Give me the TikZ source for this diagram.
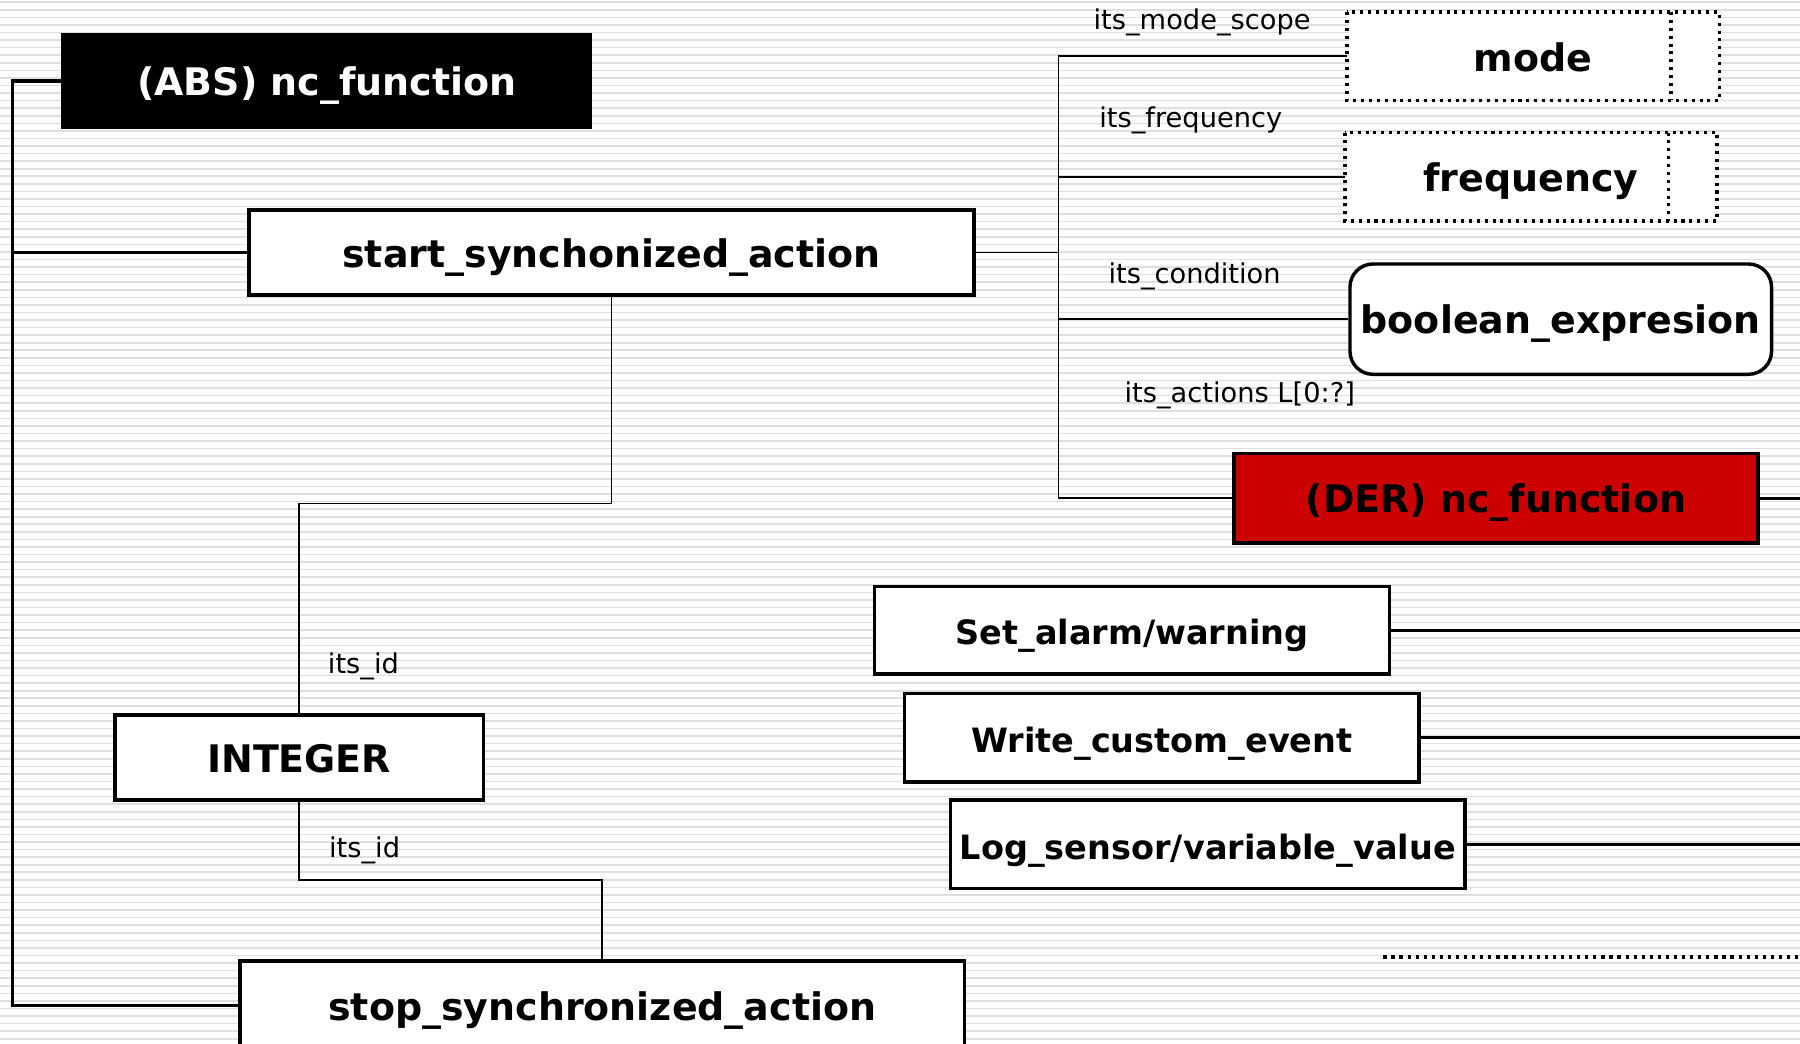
\documentclass[tikz,border=0pt]{standalone}
\usepackage{fontspec}
\setmainfont{DejaVu Sans}
\usetikzlibrary{calc}
\definecolor{derred}{HTML}{CC0000}
\definecolor{stripe}{HTML}{DFDFDF}

\begin{document}
\begin{tikzpicture}[x=0.01cm, y=-0.01cm,
  entity/.style={draw=black, line width=0.85pt, fill=white, inner sep=0pt,
    anchor=north west, font=\fontsize{9.4}{11}\selectfont\bfseries,
    text height=0.73em, text depth=0pt},
  actionbox/.style={entity, font=\fontsize{8.3}{10}\selectfont\bfseries},
  dotborder/.style={dash pattern=on 0.75pt off 1.2pt},
  rolelbl/.style={anchor=base west, inner sep=0pt,
    font=\fontsize{6.75}{8}\selectfont},
  thk/.style={line width=0.85pt},
  thn/.style={line width=0.45pt},
]
% canvas
\useasboundingbox (0,0) rectangle (1568,909);
\clip (0,0) rectangle (1568,909);
\fill[white] (0,0) rectangle (1568,909);
\foreach \yy in {2,8.59,...,909}
  \draw[stripe, line width=0.4pt] (0,\yy) -- (1568,\yy);

% bus coordinates
\coordinate (lbus) at (11,0);
\coordinate (rbus) at (922,0);
\coordinate (redge) at (1580,0);
\coordinate (dotA) at (1205,834);
\coordinate (dotB) at (1580,834);

% entities (positions are the top-left corners of the outlines)
\node[entity, fill=black, text=white, minimum width=4.59cm, minimum height=0.81cm]
  (abs) at (53.5,28.5) {(ABS) nc\_function};
\node[entity, minimum width=6.31cm, minimum height=0.74cm]
  (start) at (215.5,181.5) {start\_synchonized\_action};
\node[entity, minimum width=3.21cm, minimum height=0.74cm]
  (integer) at (98.5,621.5) {INTEGER};
\node[entity, minimum width=6.31cm, minimum height=0.78cm]
  (stop) at (207.5,835.5) {stop\_synchronized\_action};

\node[entity, draw=none, minimum width=3.21cm, minimum height=0.74cm]
  (mode) at (1173.5,10.5) {mode};
\node[entity, draw=none, minimum width=3.21cm, minimum height=0.74cm]
  (freq) at (1171.5,115.5) {frequency};
\node[entity, rounded corners=0.2cm, minimum width=3.67cm, minimum height=0.96cm]
  (cond) at (1174.5,228.5) {boolean\_expresion};
\node[entity, fill=derred, minimum width=4.56cm, minimum height=0.78cm]
  (der) at (1073.5,393.5) {(DER) nc\_function};

\node[actionbox, minimum width=4.48cm, minimum height=0.76cm]
  (alarm) at (760.5,509.5) {Set\_alarm/warning};
\node[actionbox, minimum width=4.48cm, minimum height=0.77cm]
  (write) at (786.5,602.5) {Write\_custom\_event};
\node[actionbox, minimum width=4.48cm, minimum height=0.77cm]
  (logv) at (826.5,695.5) {Log\_sensor/variable\_value};

% dotted outlines of the two type boxes, each with a side compartment
\foreach \b in {mode,freq} {
  \draw[thk, dotborder] (\b.north west) rectangle (\b.south east);
  \draw[thk, dotborder] ($(\b.north east)+(-42,0)$) -- ($(\b.south east)+(-42,0)$);
}

% left inheritance bus
\draw[thk] (abs.west) -- (abs.west -| lbus) -- (stop.west -| lbus) -- (stop.west);
\draw[thk] (start.west) -- (start.west -| lbus);

% its_id links
\draw[thn] (start.south) -- ++(0,180) -| (integer.north);
\draw[thn] (integer.south) -- ++(0,68) -| (stop.north);
\node[rolelbl] (lid1) at (285,587) {its\_id};
\node[rolelbl] (lid2) at (286,747) {its\_id};

% attribute bus of start_synchonized_action
\draw[thn] (start.east) -- (start.east -| rbus);
\draw[thn] (mode.west) -- (mode.west -| rbus) -- (der.west -| rbus) -- (der.west);
\draw[thn] (freq.west) -- (freq.west -| rbus);
\draw[thn] (cond.west) -- (cond.west -| rbus);
\node[rolelbl] (lmode) at (952,26) {its\_mode\_scope};
\node[rolelbl] (lfreq) at (957,111) {its\_frequency};
\node[rolelbl] (lcond) at (965,247) {its\_condition};
\node[rolelbl] (lact) at (979,351) {its\_actions L[0:?]};

% subtype links running off to the right
\draw[thk] (der.east) -- (der.east -| redge);
\draw[thk] (alarm.east) -- (alarm.east -| redge);
\draw[thk] (write.east) -- (write.east -| redge);
\draw[thk] (logv.east) -- (logv.east -| redge);
\draw[line width=1pt, dash pattern=on 0.8pt off 1.2pt] (dotA) -- (dotB);
\end{tikzpicture}
\end{document}
